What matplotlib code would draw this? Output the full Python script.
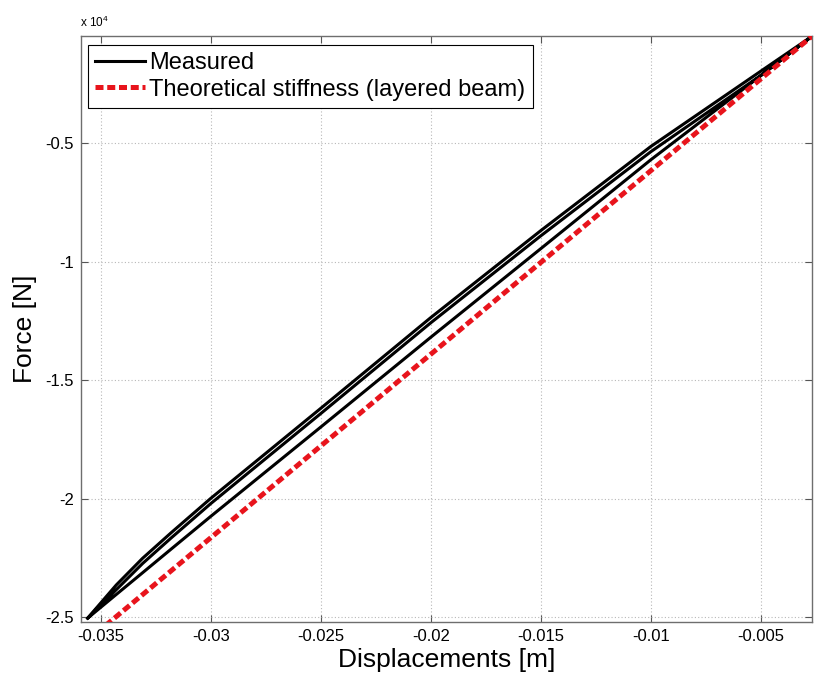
import numpy as np
import matplotlib
matplotlib.use("Agg")
import matplotlib.pyplot as plt
from matplotlib.ticker import FuncFormatter

plt.rcParams['font.family'] = ['Liberation Sans', 'DejaVu Sans']
plt.rcParams['mathtext.fontset'] = 'custom'
plt.rcParams['mathtext.rm'] = 'Liberation Sans'

# Measured hysteresis loop: displacement [m] and force [N] per branch
disp_pts = [-0.0356, -0.0343, -0.0331, -0.0318, -0.0300, -0.0250, -0.0200,
            -0.0150, -0.0100, -0.0050, -0.00268]
force_lower = [-25050, -24050, -23130, -22130, -20750, -16980, -13190,
               -9450, -5700, -2150, -490]
force_upper_a = [-25050, -23650, -22520, -21440, -19990, -16190, -12360,
                 -8690, -5140, -1960, -490]
force_upper_b = [-25050, -23850, -22740, -21660, -20210, -16410, -12580,
                 -8910, -5360, -2140, -490]

# Theoretical stiffness line (layered beam)
theory_disp = [-0.0352, -0.00268]
theory_force = [-25680, -490]

x_ticks = [-0.035, -0.03, -0.025, -0.02, -0.015, -0.01, -0.005]
y_ticks = [-25000, -20000, -15000, -10000, -5000]

W, H = 815, 677
fig = plt.figure(figsize=(W / 100, H / 100), dpi=100)
ax = fig.add_axes([81 / W, 1 - 622 / H, (812 - 81) / W, (622 - 36) / H])

d = np.array(disp_pts)
meas_x = np.concatenate([d[::-1], d, d[::-1]])
meas_y = np.concatenate([np.array(force_lower)[::-1], force_upper_b,
                         np.array(force_upper_a)[::-1]])

ax.plot(meas_x, meas_y, color='black', lw=2.2, solid_joinstyle='round',
        label='Measured', zorder=3)
ax.plot(theory_disp, theory_force, color='#e8141c', lw=3.6, linestyle=(0, (1.6, 0.75)),
        label='Theoretical stiffness (layered beam)', zorder=4)

ax.set_xlim(-0.0359, -0.00268)
ax.set_ylim(-25210, -480)
ax.set_xticks(x_ticks)
ax.set_yticks(y_ticks)
ax.xaxis.set_major_formatter(FuncFormatter(lambda v, p: f"{v:g}"))
ax.yaxis.set_major_formatter(FuncFormatter(lambda v, p: f"{v / 1e4:g}"))

ax.grid(True, color='#b8b8b8', linestyle=(0, (1, 2)), lw=0.8)
ax.tick_params(direction='in', length=5, width=0.8, color='#555555', labelsize=12,
               top=True, right=True, pad=5)
for s in ax.spines.values():
    s.set_color('#6e6e6e')
    s.set_linewidth(1.0)

ax.set_xlabel('Displacements [m]', fontsize=19, labelpad=3)
ax.set_ylabel('Force [N]', fontsize=19, labelpad=6)

fig.text(80 / W, 1 - 22 / H, r'x 10$^4$', fontsize=8.5, va='center', ha='left')

leg = ax.legend(loc='upper left', bbox_to_anchor=(0.0096, 0.985), borderaxespad=0,
                fontsize=17, fancybox=False, edgecolor='black', framealpha=1,
                handlelength=2.1, handletextpad=0.2, labelspacing=0.2, borderpad=0.3)
leg.get_frame().set_linewidth(0.8)

fig.savefig('out.png', dpi=100)
